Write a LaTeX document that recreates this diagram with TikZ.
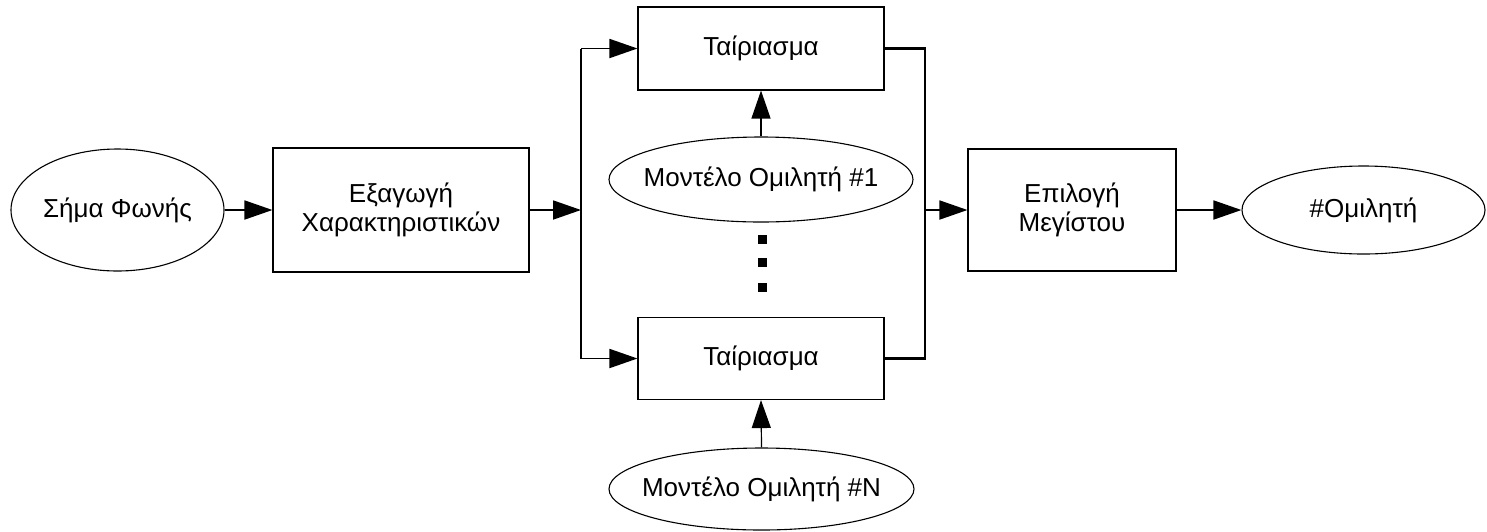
\documentclass[tikz,border=0pt]{standalone}
\usepackage{fontspec}
\setmainfont{Liberation Sans}
\usetikzlibrary{arrows.meta,shapes.geometric}

% text of fixed-size ellipses should not enlarge the outline
\newcommand{\fixedtext}[1]{\makebox[0pt][c]{#1}}

\tikzset{
  lbl/.style={font=\fontsize{13}{14.7}\selectfont, align=center, inner sep=0pt},
  blockbox/.style={lbl, draw, line width=0.55pt, rectangle},
  ellbox/.style={lbl, draw, line width=0.55pt, ellipse},
  arr/.style={line width=0.9pt, -{Triangle[length=14pt,width=9.5pt]}},
  thinarr/.style={line width=0.6pt, -{Triangle[length=14pt,width=9.5pt]}},
  busline/.style={line width=1.2pt},
  dotsq/.style={fill=black, draw=none, minimum size=4.5pt, inner sep=0pt, rectangle}
}

\begin{document}
\begin{tikzpicture}[x=0.5pt,y=-0.5pt]
\useasboundingbox (0,0) rectangle (1487,531);

% processing blocks
\node[ellbox, minimum width=106.5pt, minimum height=61pt] (sig) at (117.5,210) {\fixedtext{Σήμα Φωνής}};
\node[blockbox, minimum width=128pt, minimum height=62pt] (feat) at (401,210) {Εξαγωγή\\Χαρακτηριστικών};
\node[blockbox, minimum width=123pt, minimum height=41.5pt] (m1) at (761,48.5) {Ταίριασμα};
\node[blockbox, minimum width=123pt, minimum height=41pt] (m2) at (761,358.5) {Ταίριασμα};
\node[ellbox, minimum width=152pt, minimum height=42.5pt] (mod1) at (761,179.5) {\fixedtext{Μοντέλο Ομιλητή \#1}};
\node[ellbox, minimum width=152.5pt, minimum height=41pt] (modN) at (761.5,489) {\fixedtext{Μοντέλο Ομιλητή \#N}};
\node[blockbox, minimum width=104pt, minimum height=61pt] (sel) at (1072,210) {Επιλογή\\Μεγίστου};
\node[ellbox, minimum width=121.5pt, minimum height=44pt] (out) at (1363.5,210) {\fixedtext{\#Ομιλητή}};

% vertical ellipsis between the matching stages
\node[dotsq] (d1) at (762,239) {};
\node[dotsq] (d2) at (762,262.5) {};
\node[dotsq] (d3) at (762,287) {};

% bus junctions
\coordinate (jl) at (581,210);
\coordinate (jr) at (925,210);

% connectors
\draw[arr] (sig.east) -- (feat.west);
\draw[arr] (feat.east) -- (jl);
\draw[busline] (jl |- m1.west) -- (jl |- m2.west);
\draw[arr] (jl |- m1.west) -- (m1.west);
\draw[arr] (jl |- m2.west) -- (m2.west);
\draw[thinarr] (mod1.north) -- (m1.south);
\draw[thinarr] (modN.north) -- (m2.south);
\draw[busline] (m1.east) -- (m1.east -| jr) -- (m2.east -| jr) -- (m2.east);
\draw[arr] (jr) -- (sel.west);
\draw[arr] (sel.east) -- (out.west);
\end{tikzpicture}
\end{document}
